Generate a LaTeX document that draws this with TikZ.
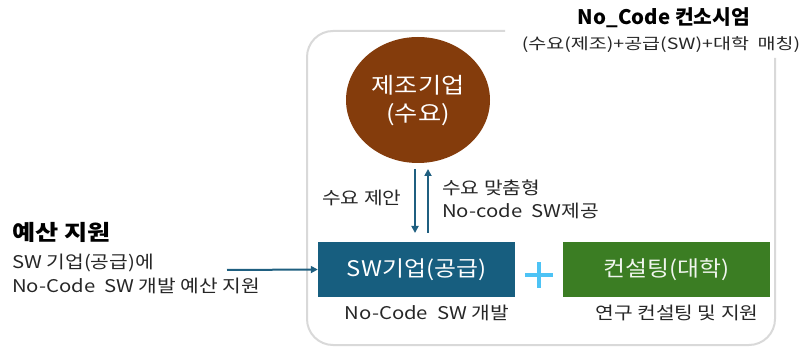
\documentclass[tikz,border=0pt]{standalone}
\usepackage{fontspec}
\setmainfont{Noto Sans CJK KR}
\usetikzlibrary{arrows.meta,shapes.geometric}
\definecolor{brownc}{HTML}{843C0C}
\definecolor{swblue}{HTML}{175E7F}
\definecolor{grn}{HTML}{3B7D23}
\definecolor{plusc}{HTML}{4DC3F5}
\definecolor{arr}{HTML}{1F5F80}
\definecolor{frame}{HTML}{D9D9D9}
\definecolor{txt}{HTML}{262626}
\newcommand{\fsz}[3]{\addfontfeature{FakeStretch=#3}\fontsize{#1}{#2}\selectfont}
\tikzset{
  lbl/.style={text=txt, inner sep=0pt, font=\fsz{17.5}{22}{1.16}},
  boxtxt/.style={inner sep=0pt, font=\fsz{21.5}{26}{1.11}},
  conn/.style={draw=arr, line width=2pt, -{Triangle[length=7pt,width=7pt]}},
}
\begin{document}
\begin{tikzpicture}[x=1pt,y=-1pt]
\useasboundingbox (0,0) rectangle (811,347);
% container
\draw[frame, line width=2pt, rounded corners=26pt] (505,31) -- (307,31) -- (307,345) -- (775,345) -- (775,58);
% title
\node[text=black, inner sep=0pt, font=\bfseries\fsz{20}{24}{1.02}] (title) at (664,18) {No\_Code 컨소시엄};
\node[text=txt, inner sep=0pt, font=\fsz{15.5}{18}{1.26}] (subtitle) at (661,45) {(수요(제조)+공급(SW)+대학\ \ 매칭)};
% circle
\node[ellipse, fill=brownc, minimum width=144pt, minimum height=126pt, inner sep=0pt] (demand) at (418,100) {};
\node[boxtxt, text=white, align=center, font=\fsz{22}{28}{1.145}] (demandtxt) at (418,101) {제조기업\\(수요)};
% boxes
\node[rectangle, fill=swblue, minimum width=197pt, minimum height=55pt, inner sep=0pt] (sw) at (416.5,269.5) {};
\node[boxtxt, text=white] (swtxt) at (416.5,269.5) {SW기업(공급)};
\node[rectangle, fill=grn, minimum width=207pt, minimum height=55pt, inner sep=0pt] (cons) at (666.5,269.5) {};
\node[boxtxt, text=white!92!grn] (constxt) at (666.5,269.5) {컨설팅(대학)};
% plus
\node[inner sep=0pt, minimum width=28pt, minimum height=25pt] (plus) at (539,275) {};
\draw[plusc, line width=4pt] (plus.west) -- (plus.east);
\draw[plusc, line width=4pt] (plus.north) -- (plus.south);
% vertical arrows
\coordinate (dtop) at (415,169);
\coordinate (dbot) at (415,233);
\coordinate (utop) at (428,169);
\coordinate (ubot) at (428,233);
\draw[conn] (dtop) -- (dbot);
\draw[conn] (ubot) -- (utop);
\node[lbl, anchor=west] (propose) at (322,198) {수요 제안};
\node[lbl, anchor=west, align=left, font=\fsz{17.5}{23}{1.16}] (custom) at (442,199) {수요 맞춤형\\No-code\ \ SW제공};
% captions
\node[lbl] (swcap) at (427,313) {No-Code\ \ SW 개발};
\node[lbl] (conscap) at (677,313) {연구 컨설팅 및 지원};
% left
\node[text=black, inner sep=0pt, anchor=west, font=\bfseries\fsz{21.5}{26}{1.17}] (budget) at (12,232) {예산 지원};
\node[lbl, anchor=west] (budget1) at (12,263) {SW 기업(공급)에};
\node[lbl, anchor=west] (budget2) at (12,286) {No-Code\ \ SW 개발 예산 지원};
\coordinate (bstart) at (227,270);
\draw[conn] (bstart) -- (sw.west);
\end{tikzpicture}
\end{document}
